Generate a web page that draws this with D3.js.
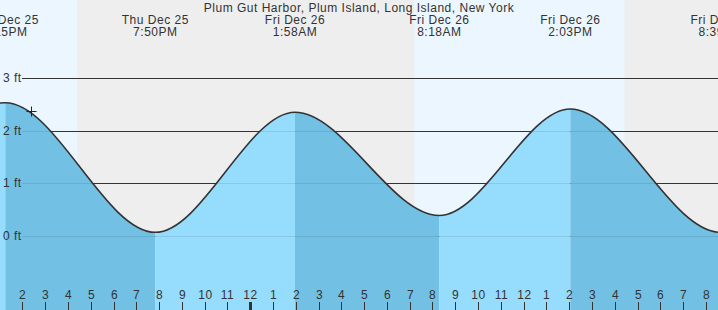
<!DOCTYPE html>
<html>
<head>
<meta charset="utf-8">
<script src="https://cdn.jsdelivr.net/npm/d3@7"></script>
<style>
	body { margin: 0; background: #fff; }
	svg { display: block; font-family: "Liberation Sans", Arial, sans-serif; }
	text { fill: #333; font-size: 12px; letter-spacing: 0.5px; }
</style>
</head>
<body>
<svg id="chart"></svg>
<script>
/* tide chart: Plum Gut Harbor, high/low predictions */

var title = "Plum Gut Harbor, Plum Island, Long Island, New York";

// visible window
var view_start = "2025-12-25 13:01";
var view_end = "2025-12-26 20:32";

// high / low tides (first and last lie outside the window)
var tide_times = ["2025-12-25 07:05", "2025-12-25 13:15", "2025-12-25 19:50", "2025-12-26 01:58",
	"2025-12-26 08:18", "2025-12-26 14:03", "2025-12-26 20:39", "2025-12-27 02:45"];
var tide_heights = [0.30, 2.53, 0.07, 2.35, 0.39, 2.41, 0.07, 2.30];

// sunrise / sunset
var sun_times = ["2025-12-25 07:11", "2025-12-25 16:24", "2025-12-26 07:12", "2025-12-26 16:26", "2025-12-27 07:12"];

// y axis ticks (feet)
var height_ticks = [0, 1, 2, 3];

// current time marker
var now_time = "2025-12-25 14:23";
var now_height = 2.38;

var width = 718, height = 310;
var parse = d3.timeParse("%Y-%m-%d %H:%M");

var svg = d3.select("#chart").attr("width", width).attr("height", height);

var x = d3.scaleTime().domain([parse(view_start), parse(view_end)]).range([0, width]);
var y = d3.scaleLinear().domain([0, 3]).range([236, 78]);

var tides = tide_times.map(function(t, i){
	return { time: parse(t), h: tide_heights[i] };
});

// day / night background
svg.append("rect").attr("width", width).attr("height", height).attr("fill", "#eeeeee");
var sun = sun_times.map(parse);
for(var i = 0; i + 1 < sun.length; i += 2){
	svg.append("rect")
	.attr("x", x(sun[i]))
	.attr("y", 0)
	.attr("width", x(sun[i + 1]) - x(sun[i]))
	.attr("height", height)
	.attr("fill", "#ecf6fe");
}

// grid lines
svg.append("g").attr("class", "grid")
.selectAll("line")
.data(height_ticks)
.enter().append("line")
.attr("x1", 22).attr("x2", width)
.attr("y1", function(d){ return Math.round(y(d)) + 0.5; })
.attr("y2", function(d){ return Math.round(y(d)) + 0.5; })
.attr("stroke", "#333").attr("stroke-width", 1);

// water area, coloured by rising / falling
var area = d3.area()
.x(function(d){ return x(d.time); })
.y0(height)
.y1(function(d){ return y(d.h); })
.curve(d3.curveMonotoneX);

var line = d3.line()
.x(function(d){ return x(d.time); })
.y(function(d){ return y(d.h); })
.curve(d3.curveMonotoneX);

svg.append("clipPath").attr("id", "water")
.append("path").attr("d", area(tides));

var water = svg.append("g").attr("clip-path", "url(#water)");
water.selectAll("rect")
.data(tides.slice(0, -1))
.enter().append("rect")
.attr("x", function(d){ return x(d.time); })
.attr("y", 0)
.attr("width", function(d, i){ return x(tides[i + 1].time) - x(d.time); })
.attr("height", height)
.attr("fill", function(d, i){ return tides[i + 1].h > d.h ? "#96dcfc" : "#72c0e4"; });

// faint grid lines inside the water
water.selectAll("line")
.data(height_ticks)
.enter().append("line")
.attr("x1", 22).attr("x2", width)
.attr("y1", function(d){ return Math.round(y(d)) + 0.5; })
.attr("y2", function(d){ return Math.round(y(d)) + 0.5; })
.attr("stroke", "#000").attr("stroke-opacity", 0.09);

svg.append("path")
.attr("d", line(tides))
.attr("fill", "none")
.attr("stroke", "#333")
.attr("stroke-width", 1.6);

// grid labels on top of the water
svg.append("g").attr("class", "grid-labels")
.selectAll("text")
.data(height_ticks)
.enter().append("text")
.attr("x", 3)
.attr("y", function(d){ return y(d) + 4; })
.text(function(d){ return d + " ft"; });

// now marker
var nx = Math.round(x(parse(now_time))) + 0.5, ny = Math.round(y(now_height)) + 0.5;
svg.append("path")
.attr("d", "M" + (nx - 5) + "," + ny + "H" + (nx + 5) + "M" + nx + "," + (ny - 5) + "V" + (ny + 5))
.attr("stroke", "#222").attr("stroke-width", 1);

// title + extreme labels
svg.append("text")
.attr("x", width / 2).attr("y", 12)
.attr("text-anchor", "middle")
.text(title);

var fmt_day = d3.timeFormat("%a %b %d");
var fmt_time = d3.timeFormat("%-I:%M%p");

// only the extremes that fall in the window get labels
var shown = tides.filter(function(d){ return d.time >= x.domain()[0] && d.time <= d3.timeMinute.offset(x.domain()[1], 30); });

var labels = svg.append("g").attr("class", "extremes")
.selectAll("g")
.data(shown)
.enter().append("g")
.attr("transform", function(d){ return "translate(" + x(d.time) + ",0)"; });

labels.append("text").attr("y", 24).attr("text-anchor", "middle")
.text(function(d){ return fmt_day(d.time); });
labels.append("text").attr("y", 36).attr("text-anchor", "middle")
.text(function(d){ return fmt_time(d.time); });

// hour ticks
var hours = x.ticks(d3.timeHour.every(1));
var ticks = svg.append("g").attr("class", "hours")
.selectAll("g")
.data(hours)
.enter().append("g")
.attr("transform", function(d){ return "translate(" + (Math.round(x(d)) + 0.5) + ",0)"; });

ticks.append("line")
.attr("y1", 302).attr("y2", height)
.attr("stroke", "#333")
.attr("stroke-width", function(d){ return d.getHours() == 0 ? 3 : 1; });

ticks.append("text")
.attr("y", 299)
.attr("text-anchor", "middle")
.text(d3.timeFormat("%-I"));
</script>
</body>
</html>
